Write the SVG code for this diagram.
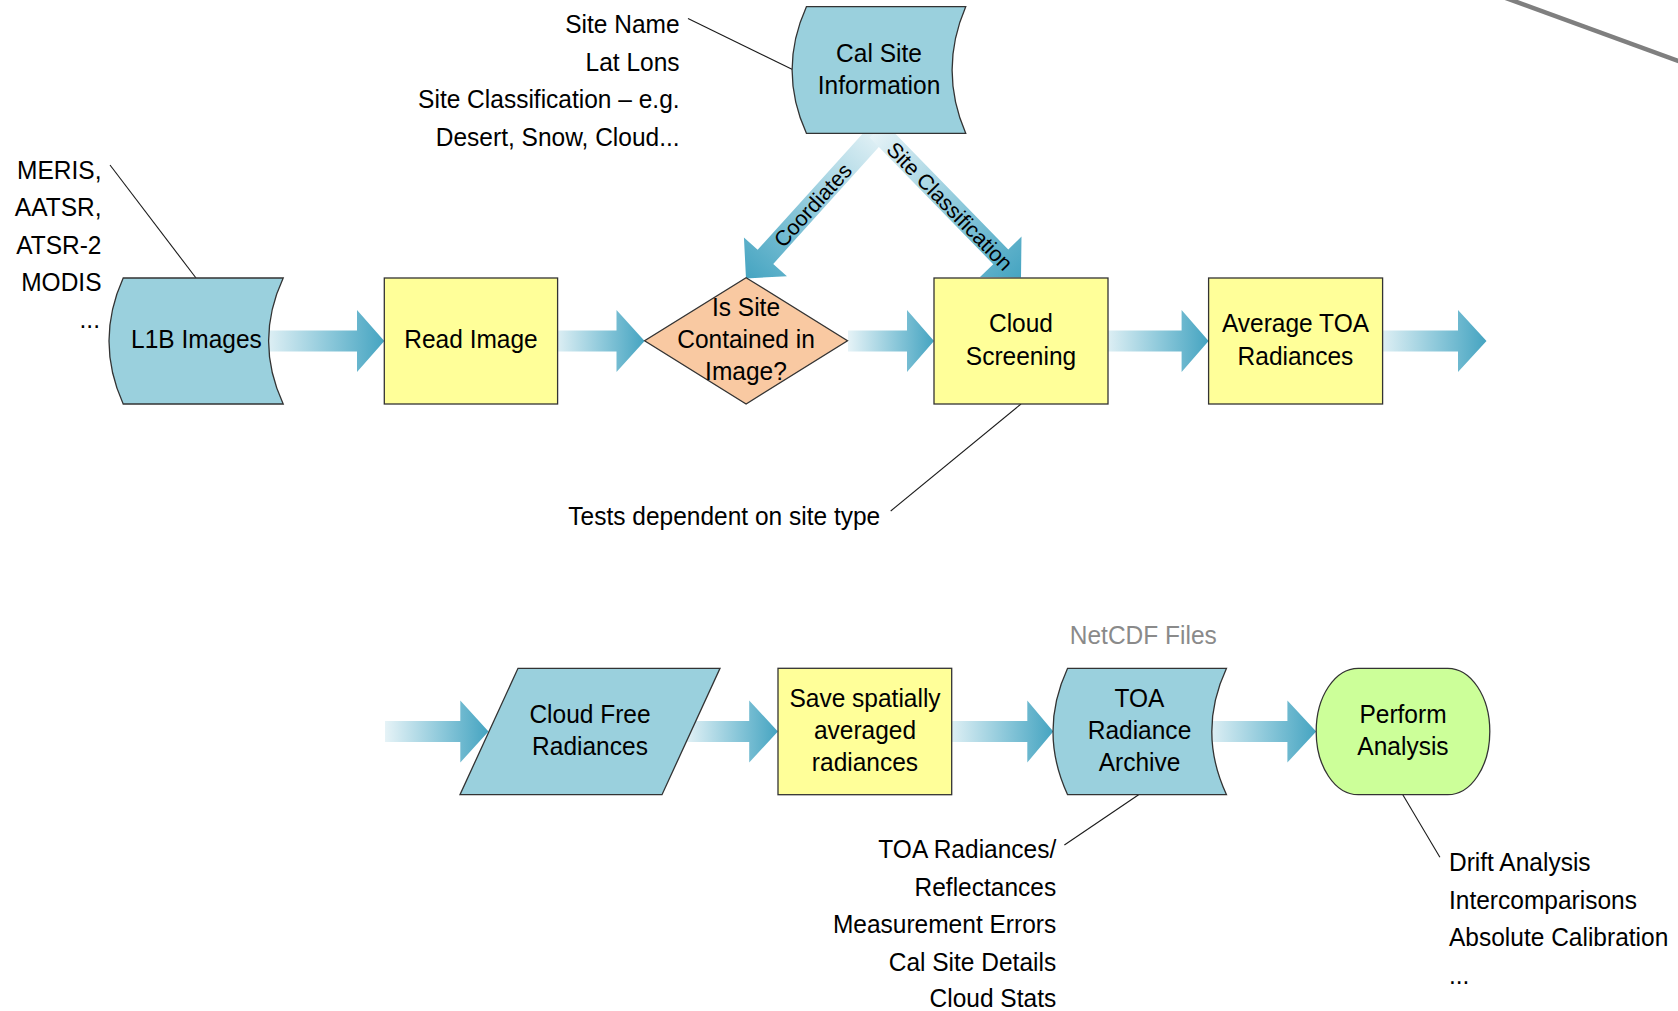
<svg xmlns="http://www.w3.org/2000/svg" width="1678" height="1011" viewBox="0 0 1678 1011">
<defs>
<linearGradient id="ag" x1="0" y1="0" x2="1" y2="0">
<stop offset="0" stop-color="#e6f3f7"/>
<stop offset="0.55" stop-color="#8cc8da"/>
<stop offset="1" stop-color="#45a4c1"/>
</linearGradient>
<style>
text{font-family:"Liberation Sans",Arial,sans-serif;font-size:26.5px;fill:#000}
text:not(.lbl){transform-box:fill-box;transform:scaleX(0.925);transform-origin:left center}
text.c{text-anchor:middle;transform-origin:center}
text.r{text-anchor:end;transform-origin:right center}
text.lbl{font-size:21.5px;text-anchor:middle}
.gray{fill:#8a8a8a}
.arrow{fill:url(#ag)}
.lead{stroke:#1a1a1a;stroke-width:1.1;fill:none}
.blue{fill:#9ad0dd;stroke:#333;stroke-width:1.3}
.yel{fill:#ffff99;stroke:#333;stroke-width:1.3}
.peach{fill:#f9c9a2;stroke:#333;stroke-width:1.3}
.green{fill:#ccff99;stroke:#333;stroke-width:1.3}
</style>
</defs>
<rect width="1678" height="1011" fill="#fff"/>
<line x1="1503" y1="-3" x2="1684" y2="63" stroke="#7f7f7f" stroke-width="4.5"/>

<g id="connectors">
<path class="arrow" d="M262,330.5 H357 V310 L384.3,341 L357,372 V351.5 H262 Z"/>
<path class="arrow" d="M552,330.5 H616.5 V310 L644.6,341 L616.5,372 V351.5 H552 Z"/>
<path class="arrow" d="M848,330.5 H907 V310 L934,341 L907,372 V351.5 H848 Z"/>
<path class="arrow" d="M1102,330.5 H1181.6 V310 L1208.6,341 L1181.6,372 V351.5 H1102 Z"/>
<path class="arrow" d="M1377,330.5 H1458 V310 L1486.5,341 L1458,372 V351.5 H1377 Z"/>
<path class="arrow" d="M385,721 H460.3 V700.5 L488.5,731.5 L460.3,762.5 V742 H385 Z"/>
<path class="arrow" d="M684,721 H749.2 V700.5 L777.9,731.5 L749.2,762.5 V742 H684 Z"/>
<path class="arrow" d="M946,721 H1027.3 V700.5 L1053.3,731.5 L1027.3,762.5 V742 H946 Z"/>
<path class="arrow" d="M1205,721 H1287.4 V700.5 L1316.2,731.5 L1287.4,762.5 V742 H1205 Z"/>
<path class="arrow" transform="translate(746,278.4) rotate(132.1)" d="M-200,-10.5 H-29 V-29 L0,0 L-29,29 V10.5 H-200 Z"/>
<path class="arrow" transform="translate(1021,277.6) rotate(45.7)" d="M-206,-10.5 H-29 V-29 L0,0 L-29,29 V10.5 H-206 Z"/>
<line class="lead" x1="110" y1="165" x2="196" y2="278"/>
<line class="lead" x1="688" y1="18.5" x2="792.5" y2="69.5"/>
<line class="lead" x1="1021" y1="404" x2="890.7" y2="511"/>
<line class="lead" x1="1138.6" y1="794.7" x2="1064.4" y2="845"/>
<line class="lead" x1="1402.8" y1="794.7" x2="1439.9" y2="857.3"/>
</g>

<g id="label-coordinates"><text class="lbl" transform="translate(812.5,205) rotate(-47.9)" dy="0.36em">Coordiates</text></g>
<g id="label-site-classification"><text class="lbl" transform="translate(950,206) rotate(45.7)" dy="0.36em">Site Classification</text></g>

<g id="l1b-images">
<path class="blue" d="M123.2,278 H283.2 Q254,341 283.2,404 H123.2 Q94.8,341 123.2,278 Z"/>
<text class="c" x="196.4" y="348">L1B Images</text>
</g>
<g id="read-image">
<rect class="yel" x="384.3" y="278" width="173.3" height="126"/>
<text class="c" x="471" y="348">Read Image</text>
</g>
<g id="is-site-contained">
<path class="peach" d="M746.1,277.7 L847.5,340.8 L746.1,404 L644.6,340.8 Z"/>
<text class="c" x="746" y="316">Is Site</text>
<text class="c" x="746" y="348.5">Contained in</text>
<text class="c" x="746" y="380.5">Image?</text>
</g>
<g id="cloud-screening">
<rect class="yel" x="934" y="278" width="174" height="126"/>
<text class="c" x="1021" y="332.5">Cloud</text>
<text class="c" x="1021" y="364.8">Screening</text>
</g>
<g id="average-toa">
<rect class="yel" x="1208.6" y="278" width="174" height="126"/>
<text class="c" x="1295.5" y="332.5">Average TOA</text>
<text class="c" x="1295.5" y="364.8">Radiances</text>
</g>
<g id="cal-site-information">
<path class="blue" d="M806.4,6.7 H965.7 Q938.5,70 965.7,133.3 H806.4 Q777.8,70 806.4,6.7 Z"/>
<text class="c" x="879" y="61.7">Cal Site</text>
<text class="c" x="879" y="94.3">Information</text>
</g>
<g id="cloud-free-radiances">
<path class="blue" d="M518,668.3 H720 L662,794.7 H460 Z"/>
<text class="c" x="590" y="723.3">Cloud Free</text>
<text class="c" x="590" y="755">Radiances</text>
</g>
<g id="save-spatially">
<rect class="yel" x="778" y="668.3" width="173.7" height="126.4"/>
<text class="c" x="865" y="707.5">Save spatially</text>
<text class="c" x="865" y="739.5">averaged</text>
<text class="c" x="865" y="771.5">radiances</text>
</g>
<g id="toa-radiance-archive">
<path class="blue" d="M1067.6,668.3 H1226.5 Q1197.1,731.5 1226.5,794.7 H1067.6 Q1038.4,731.5 1067.6,668.3 Z"/>
<text class="c" x="1139.5" y="707.5">TOA</text>
<text class="c" x="1139.5" y="739.5">Radiance</text>
<text class="c" x="1139.5" y="771.5">Archive</text>
</g>
<g id="perform-analysis">
<rect class="green" x="1316.2" y="668.3" width="173.6" height="126.4" rx="42" ry="63"/>
<text class="c" x="1403" y="723.3">Perform</text>
<text class="c" x="1403" y="755">Analysis</text>
</g>

<g id="note-sensors">
<text class="r" x="101.5" y="179">MERIS,</text>
<text class="r" x="101.5" y="216.5">AATSR,</text>
<text class="r" x="101.5" y="254">ATSR-2</text>
<text class="r" x="101.5" y="291">MODIS</text>
<text class="r" x="100" y="328">...</text>
</g>
<g id="note-site">
<text class="r" x="679.6" y="33.5">Site Name</text>
<text class="r" x="679.6" y="71">Lat Lons</text>
<text class="r" x="679.6" y="108.5">Site Classification – e.g.</text>
<text class="r" x="679.6" y="146">Desert, Snow, Cloud...</text>
</g>
<g id="note-tests">
<text x="568.3" y="525">Tests dependent on site type</text>
</g>
<g id="note-netcdf">
<text class="c gray" x="1143.3" y="644.3">NetCDF Files</text>
</g>
<g id="note-archive">
<text class="r" x="1056.2" y="858.5">TOA Radiances/</text>
<text class="r" x="1056.2" y="896">Reflectances</text>
<text class="r" x="1056.2" y="933.5">Measurement Errors</text>
<text class="r" x="1056.2" y="971">Cal Site Details</text>
<text class="r" x="1056.2" y="1007.5">Cloud Stats</text>
</g>
<g id="note-analysis">
<text x="1449" y="871.5">Drift Analysis</text>
<text x="1449" y="909">Intercomparisons</text>
<text x="1449" y="946.5">Absolute Calibration</text>
<text x="1449" y="984">...</text>
</g>
</svg>
